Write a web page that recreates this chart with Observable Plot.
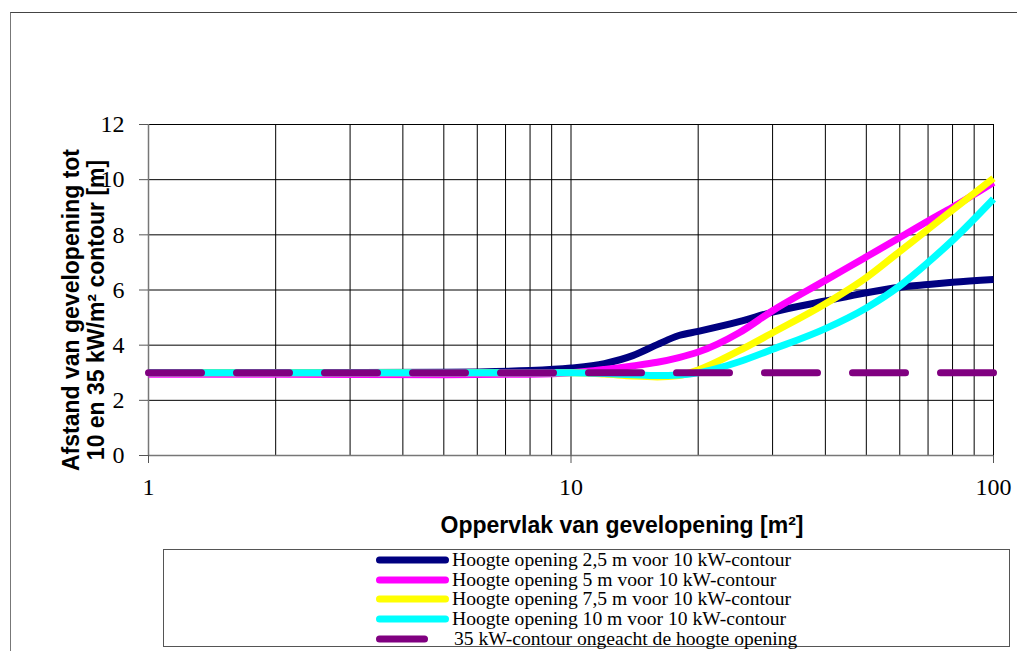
<!DOCTYPE html>
<html>
<head>
<meta charset="utf-8">
<script src="https://cdn.jsdelivr.net/npm/d3@7"></script>
<script src="https://cdn.jsdelivr.net/npm/@observablehq/plot@0.6"></script>
<style>
  body { margin: 0; background: #fff; }
  #wrap { position: relative; width: 1017px; height: 651px; overflow: hidden; background: #fff; }
  #frame { position: absolute; left: 10px; top: 12px; width: 1100px; height: 700px;
           border-left: 1.5px solid #777; border-top: 1.5px solid #444; }
  #chart { position: absolute; left: 0; top: 0; }
  #legend { position: absolute; left: 163px; top: 549px; width: 847px; height: 98px;
            border: 1.5px solid #555; box-sizing: border-box; background: #fff; }
  .lrow { position: absolute; left: 0; height: 20px; width: 840px; }
  .lrow svg { position: absolute; top: 0; }
  .lrow span { position: absolute; top: 0; font-family: "Liberation Serif", "Times New Roman", serif;
               font-size: 19.6px; line-height: 20px; white-space: nowrap; color: #000; }
</style>
</head>
<body>
<div id="wrap">
  <div id="frame"></div>
  <div id="chart"></div>
  <div id="legend"></div>
</div>
<script>
// Oppervlak van gevelopening [m²]
const area = [1, 2, 5, 8, 10, 12, 14, 16, 18, 20, 25, 30, 40, 50, 60, 70, 80, 100];
// Hoogte opening 2,5 m voor 10 kW-contour
const h25 = [3.0, 3.0, 3.02, 3.08, 3.17, 3.33, 3.62, 4.02, 4.35, 4.5, 4.85, 5.2, 5.6, 5.9, 6.1, 6.2, 6.28, 6.38];
// Hoogte opening 5 m voor 10 kW-contour
const h5 = [2.95, 2.95, 2.93, 2.95, 3.0, 3.12, 3.25, 3.38, 3.55, 3.75, 4.45, 5.25, 6.35, 7.2, 7.9, 8.5, 9.0, 9.9];
// Hoogte opening 7,5 m voor 10 kW-contour
const h75 = [3.0, 3.0, 3.0, 3.0, 3.0, 2.95, 2.88, 2.85, 2.9, 3.1, 3.8, 4.45, 5.5, 6.45, 7.4, 8.2, 8.9, 10.05];
// Hoogte opening 10 m voor 10 kW-contour
const h10 = [3.0, 3.0, 3.0, 3.0, 3.0, 2.97, 2.93, 2.9, 2.92, 3.0, 3.4, 3.85, 4.6, 5.35, 6.15, 7.0, 7.8, 9.3];
// 35 kW-contour ongeacht de hoogte opening
const areaK35 = [1, 100];
const k35 = [3.0, 3.0];

const seriesNames = [
  "Hoogte opening 2,5 m voor 10 kW-contour",
  "Hoogte opening 5 m voor 10 kW-contour",
  "Hoogte opening 7,5 m voor 10 kW-contour",
  "Hoogte opening 10 m voor 10 kW-contour",
  "35 kW-contour ongeacht de hoogte opening"
];
const seriesColors = ["#000080", "#FF00FF", "#FFFF00", "#00FFFF", "#800080"];

const yTicks = [0, 2, 4, 6, 8, 10, 12];
const xTicks = [1, 10, 100];
const xGrid = [2, 3, 4, 5, 6, 7, 8, 9, 10, 20, 30, 40, 50, 60, 70, 80, 90, 100];
const yGrid = [2, 4, 6, 8, 10, 12];

const xTitle = "Oppervlak van gevelopening [m²]";
const yTitle1 = "Afstand van gevelopening tot";
const yTitle2 = "10 en 35 kW/m² contour [m]";

const toRows = (xs, ys) => xs.map((x, i) => ({x, y: ys[i]}));
const curves = [h25, h5, h75, h10].map(v => toRows(area, v));
const dashed = toRows(areaK35, k35);

const sans = "Liberation Sans, Arial, sans-serif";
const serif = "Liberation Serif, Times New Roman, serif";

const chart = Plot.plot({
  width: 1017,
  height: 545,
  marginLeft: 148,
  marginRight: 24,
  marginTop: 124,
  marginBottom: 90,
  style: {background: "transparent", overflow: "visible", fontFamily: serif},
  x: {type: "log", domain: [1, 100]},
  y: {domain: [0, 12]},
  marks: [
    Plot.ruleX(xGrid, {stroke: "#000", strokeWidth: 1}),
    Plot.ruleY(yGrid, {stroke: "#000", strokeWidth: 1}),
    Plot.ruleX([1], {stroke: "#777", strokeWidth: 1.5}),
    Plot.ruleY([0], {stroke: "#777", strokeWidth: 1.5}),
    Plot.axisY({ticks: yTicks, tickSize: 9, tickPadding: 15, fontSize: 24, fontFamily: serif,
                stroke: "#555", label: null, tickFormat: d => String(d)}),
    Plot.axisX({ticks: xTicks, tickSize: 8, tickPadding: 14, fontSize: 24, fontFamily: serif,
                stroke: "#555", label: null, tickFormat: d => String(d)}),
    ...curves.map((rows, i) => Plot.line(rows, {
      x: "x", y: "y", stroke: seriesColors[i], strokeWidth: 7, curve: "monotone-x",
      strokeLinejoin: "round", strokeLinecap: "butt"
    })),
    Plot.line(dashed, {x: "x", y: "y", stroke: seriesColors[4], strokeWidth: 7,
      strokeDasharray: "53,35", strokeLinecap: "round"}),
    Plot.text([xTitle], {frameAnchor: "bottom", dx: 51, dy: 70, lineAnchor: "middle", textAnchor: "middle",
      fontFamily: sans, fontWeight: "bold", fontSize: 23, fill: "#000"}),
    Plot.text([yTitle1], {frameAnchor: "left", dx: -77, dy: 20, rotate: -90, lineAnchor: "middle",
      textAnchor: "middle", fontFamily: sans, fontWeight: "bold", fontSize: 23, fill: "#000"}),
    Plot.text([yTitle2], {frameAnchor: "left", dx: -52, dy: 20, rotate: -90, lineAnchor: "middle",
      textAnchor: "middle", fontFamily: sans, fontWeight: "bold", fontSize: 23, fill: "#000"})
  ]
});
document.getElementById("chart").appendChild(chart);

// legend
const legend = document.getElementById("legend");
const rowCenters = [10, 29.7, 49, 69, 89];
seriesNames.forEach((name, i) => {
  const row = document.createElement("div");
  row.className = "lrow";
  row.style.top = (rowCenters[i] - 10) + "px";
  const len = i === 4 ? 45 : 66;
  row.innerHTML =
    `<svg width="90" height="20" style="left:208px"><line x1="7.5" y1="10" x2="${7.5 + len}" y2="10" stroke="${seriesColors[i]}" stroke-width="7" stroke-linecap="round"/></svg>` +
    `<span style="left:${i === 4 ? 290 : 288}px">${name}</span>`;
  legend.appendChild(row);
});
</script>
</body>
</html>
